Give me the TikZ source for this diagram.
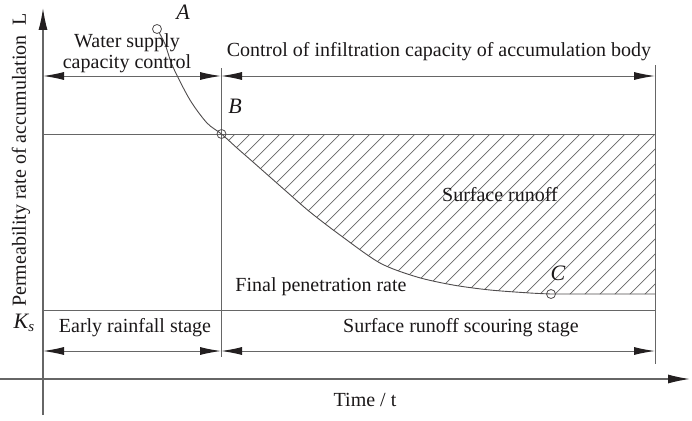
\documentclass[tikz,border=0pt]{standalone}
\usepackage{fontspec}
\setmainfont{Liberation Serif}
\usetikzlibrary{arrows.meta}
\definecolor{linegray}{HTML}{666666}
\definecolor{tipc}{HTML}{231F20}
\definecolor{txt}{HTML}{1A1718}
\begin{document}
\begin{tikzpicture}[x=1pt,y=-1pt,
  ln/.style={draw=linegray, line width=1pt},
  axisline/.style={draw=linegray, line width=1.3pt, -{Latex[length=22pt,width=9pt,color=tipc]}},
  dimline/.style={draw=linegray, line width=1pt, {Latex[length=21pt,width=8pt,color=tipc]}-{Latex[length=21pt,width=8pt,color=tipc]}},
  hatchline/.style={draw=linegray, line width=0.7pt},
  curveline/.style={draw=tipc!80, line width=0.9pt},
  lbl/.style={font=\fontsize{20}{22}\selectfont, text=txt, inner sep=0pt},
  ptlbl/.style={font=\fontsize{22}{24}\selectfont\itshape, text=txt, inner sep=0pt},
  pt/.style={circle, draw=tipc!80, line width=0.8pt, minimum size=9pt, inner sep=0pt}]
\useasboundingbox (0,0) rectangle (692,420);

% axes
\coordinate (yb) at (43,415);
\coordinate (yt) at (43,8);
\coordinate (xl) at (0,379);
\coordinate (xr) at (690,379);
\draw[axisline] (yb) -- (yt);
\draw[axisline] (xl) -- (xr);

% vertical guide lines
\coordinate (mv1) at (221,68);
\coordinate (mv2) at (221,357);
\coordinate (rv1) at (655,65);
\coordinate (rv2) at (655,364);
\draw[ln] (mv1) -- (mv2);
\draw[ln] (rv1) -- (rv2);

% horizontal lines
\coordinate (h1l) at (43,134);
\coordinate (h1r) at (655,134);
\coordinate (h2l) at (43,310);
\coordinate (h2r) at (655,310);
\draw[ln] (h1l) -- (h1r);
\draw[ln] (h2l) -- (h2r);

% dimension arrows
\coordinate (t1) at (43,76);
\coordinate (t2) at (221,76);
\coordinate (t3) at (655,76);
\coordinate (b1) at (43,351);
\coordinate (b2) at (221,351);
\coordinate (b3) at (655,351);
\draw[dimline] (t1) -- (t2);
\draw[dimline] (t2) -- (t3);
\draw[dimline] (b1) -- (b2);
\draw[dimline] (b2) -- (b3);

% hatching of surface runoff area
\begin{scope}
  \clip plot[smooth, tension=0.5] coordinates {(221,134) (237,148) (253,162) (287,192) (310,212) (340,235) (380,263) (417,277) (453,285) (490,290) (530,293) (551,294)} -- (655,294) -- (655,134) -- cycle;
  \foreach \k in {-15,0,...,600}{
    \draw[hatchline] (\k+250-200,334) -- (\k+250+200,-66);
  }
\end{scope}

% points
\node[pt, fill=white] (A) at (157,29) {};
\node[pt] (B) at (221.5,134) {};
\node[pt] (C) at (551,294) {};

% curve
\draw[curveline] plot[smooth, tension=0.5] coordinates {(A.-60) (165,44) (173,67) (190,100) (207,123) (B.center) (237,148) (253,162) (287,192) (310,212) (340,235) (380,263) (417,277) (453,285) (490,290) (530,293) (C.center)} -- (655,294);

% point labels
\node[ptlbl] (Al) at (183,12) {A};
\node[ptlbl] (Bl) at (235,106) {B};
\node[ptlbl] (Cl) at (558,273) {C};
\node[font=\fontsize{22}{24}\selectfont\itshape, text=txt, inner sep=0pt] (Ks) at (24,323) {K\raisebox{-0.3ex}{\fontsize{15}{16}\selectfont s}};

% text labels
\node[lbl, align=center] (wsc) at (127,53) {Water supply\\[-1pt]capacity control};
\node[lbl] (cic) at (439,52) {Control of infiltration capacity of accumulation body};
\node[lbl] (sr) at (500,195) {Surface runoff};
\node[lbl] (fpr) at (321,287) {Final penetration rate};
\node[lbl] (ers) at (135,328) {Early rainfall stage};
\node[lbl] (srs) at (461,328) {Surface runoff scouring stage};
\node[lbl] (tt) at (365,400) {Time / t};
\node[lbl, rotate=90] (yl) at (21,160) {Permeability rate of accumulation\ \ L};
\end{tikzpicture}
\end{document}
